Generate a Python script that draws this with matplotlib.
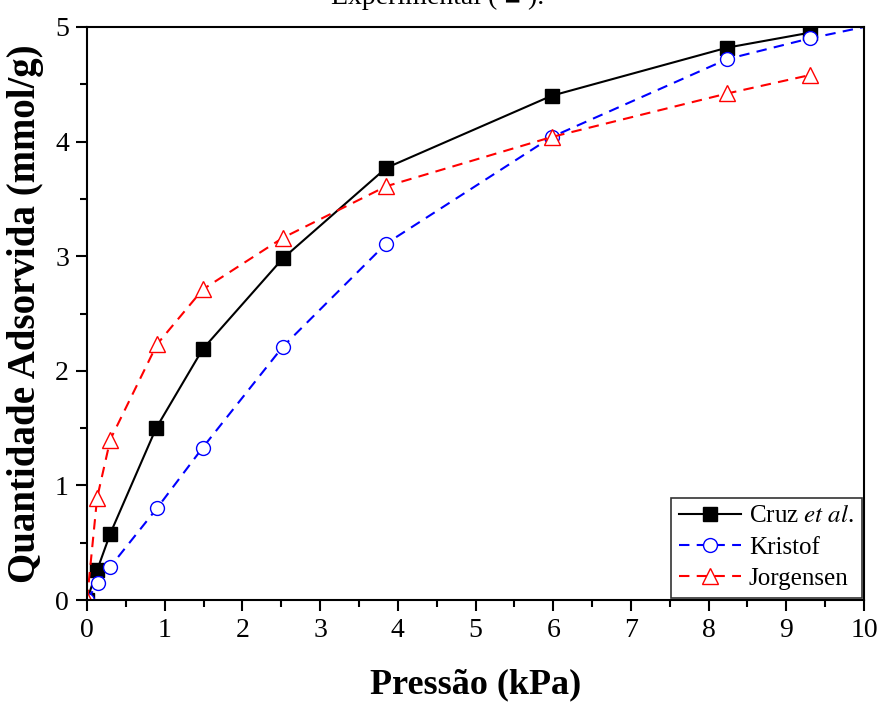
import matplotlib
matplotlib.use("Agg")
import matplotlib.pyplot as plt
from matplotlib.ticker import MultipleLocator

plt.rcParams['font.family'] = ['Liberation Serif', 'DejaVu Serif']
plt.rcParams['mathtext.fontset'] = 'stix'

# Data
cruz_x = [0.0, 0.13, 0.30, 0.89, 1.49, 2.52, 3.85, 5.98, 8.24, 9.30]
cruz_y = [0.0, 0.26, 0.58, 1.50, 2.19, 2.98, 3.77, 4.40, 4.82, 4.95]

kristof_x = [0.0, 0.14, 0.30, 0.90, 1.49, 2.52, 3.85, 5.98, 8.24, 9.30, 10.0]
kristof_y = [0.0, 0.15, 0.29, 0.80, 1.33, 2.21, 3.11, 4.04, 4.72, 4.90, 5.0]

jorg_x = [0.0, 0.13, 0.30, 0.90, 1.49, 2.52, 3.85, 5.98, 8.24, 9.30]
jorg_y = [0.0, 0.89, 1.40, 2.23, 2.71, 3.16, 3.61, 4.04, 4.42, 4.58]

xticks = list(range(0, 11))
yticks = list(range(0, 6))

fig = plt.figure(figsize=(8.81, 7.02), dpi=100)
ax = fig.add_axes([87/881, 1-600/702, (864-87)/881, (600-27)/702])

ax.plot(cruz_x, cruz_y, color='black', lw=1.5, marker='s', ms=10,
        mfc='black', mec='black', label='Cruz $\\it{et\\ al}$.')
ax.plot(kristof_x, kristof_y, color='blue', lw=1.5, ls=(0, (5, 3.5)), marker='o', ms=10,
        mfc='white', mec='blue', markevery=list(range(len(kristof_x) - 1)), label='Kristof')
ax.plot(jorg_x, jorg_y, color='red', lw=1.5, ls=(0, (5, 3.5)), marker='^', ms=11,
        mfc='white', mec='red', label='Jorgensen')

ax.set_xlim(0, 10)
ax.set_ylim(0, 5)
ax.set_xticks(xticks)
ax.set_yticks(yticks)
ax.xaxis.set_minor_locator(MultipleLocator(0.5))
ax.yaxis.set_minor_locator(MultipleLocator(0.5))
ax.tick_params(which='major', direction='out', length=8, width=1.5, labelsize=20,
               top=False, right=False, pad=5)
ax.tick_params(which='minor', direction='out', length=5, width=1.5, top=False, right=False)
for s in ax.spines.values():
    s.set_linewidth(1.5)

ax.set_xlabel('Pressão (kPa)', fontsize=26, fontweight='bold', labelpad=18)
ax.set_ylabel('Quantidade Adsorvida (mmol/g)', fontsize=28, fontweight='bold', labelpad=8)

leg = ax.legend(loc='lower right', fontsize=18, frameon=True, fancybox=False,
                edgecolor='black', handlelength=2.5, handletextpad=0.3,
                borderaxespad=0.1, labelspacing=0.35, borderpad=0.3)
leg.get_frame().set_linewidth(1.2)

fig.text(0.497, 1 - 4/702, 'Experimental ( ■ ).', ha='center', va='baseline',
         fontsize=20, family=['Liberation Serif', 'DejaVu Sans'])

fig.savefig('out.png', dpi=100)
